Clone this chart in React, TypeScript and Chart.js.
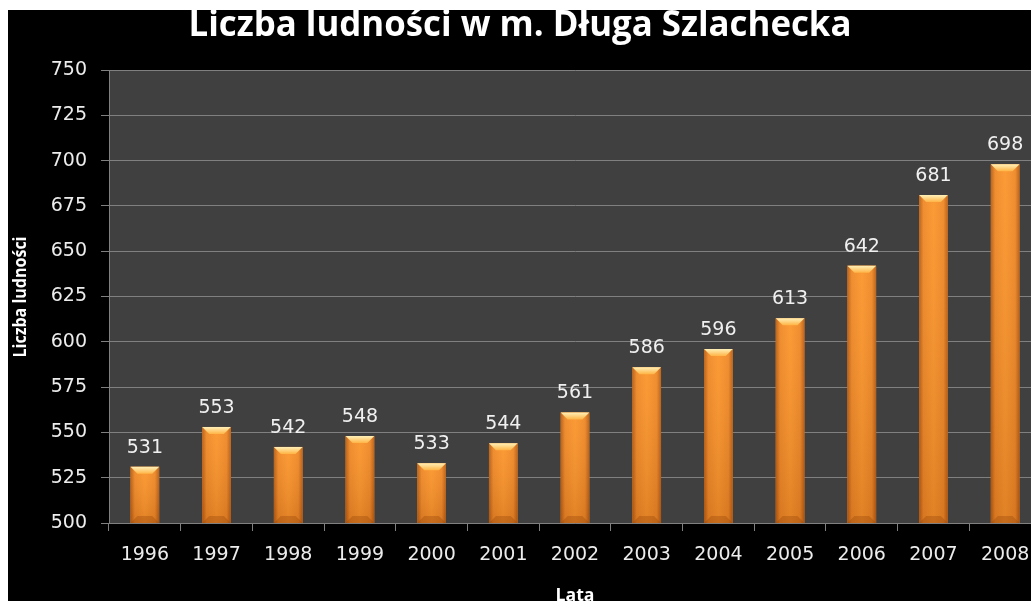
import React, { useEffect, useRef } from "react";
import { Chart, registerables } from "chart.js";

Chart.register(...registerables);

const years = ["1996", "1997", "1998", "1999", "2000", "2001", "2002", "2003", "2004", "2005", "2006", "2007", "2008"];
const population = [531, 553, 542, 548, 533, 544, 561, 586, 596, 613, 642, 681, 698];
const yMin = 500;
const yMax = 750;
const yStep = 25;

const chartTitle = "Liczba ludności w m. Długa Szlachecka";
const yTitle = "Liczba ludności";
const xTitle = "Lata";

const TICK_FONT = "DejaVu Sans";
const BOLD_FONT = "Open Sans";

function fitText(ctx: CanvasRenderingContext2D, text: string, x: number, y: number, width: number) {
  const m = ctx.measureText(text).width;
  ctx.save();
  ctx.translate(x, y);
  ctx.scale(width / m, 1);
  ctx.fillText(text, 0, 0);
  ctx.restore();
}

const decorPlugin = {
  id: "decor",
  beforeDraw(chart: any) {
    const { ctx, chartArea } = chart;
    ctx.save();
    ctx.fillStyle = "#404040";
    ctx.fillRect(chartArea.left, chartArea.top, chartArea.right - chartArea.left, chartArea.bottom - chartArea.top);
    ctx.restore();
  },
  afterDatasetsDraw(chart: any) {
    const { ctx, chartArea } = chart;
    const meta = chart.getDatasetMeta(0);
    meta.data.forEach((el: any, i: number) => {
      const w = el.width;
      const l = el.x - w / 2;
      const r = el.x + w / 2;
      const t = el.y;
      const b = Math.min(el.base, chartArea.bottom);
      const bev = 7;
      ctx.save();
      const hg = ctx.createLinearGradient(l, 0, r, 0);
      hg.addColorStop(0, "#b35a15");
      hg.addColorStop(0.15, "#ee8829");
      hg.addColorStop(0.5, "#fb962f");
      hg.addColorStop(0.85, "#ee8829");
      hg.addColorStop(1, "#b35a15");
      ctx.fillStyle = hg;
      ctx.fillRect(l, t, w, b - t);
      const vg = ctx.createLinearGradient(0, t, 0, b);
      vg.addColorStop(0, "rgba(255,200,120,0.10)");
      vg.addColorStop(1, "rgba(120,50,0,0.20)");
      ctx.fillStyle = vg;
      ctx.fillRect(l, t, w, b - t);
      const tg = ctx.createLinearGradient(0, t, 0, t + bev);
      tg.addColorStop(0, "#fff0b8");
      tg.addColorStop(1, "#ffb445");
      ctx.fillStyle = tg;
      ctx.beginPath();
      ctx.moveTo(l, t);
      ctx.lineTo(r, t);
      ctx.lineTo(r - bev, t + bev);
      ctx.lineTo(l + bev, t + bev);
      ctx.closePath();
      ctx.fill();
      ctx.fillStyle = "rgba(150,70,10,0.35)";
      ctx.beginPath();
      ctx.moveTo(l, b);
      ctx.lineTo(r, b);
      ctx.lineTo(r - bev, b - bev);
      ctx.lineTo(l + bev, b - bev);
      ctx.closePath();
      ctx.fill();
      ctx.restore();

      ctx.save();
      ctx.fillStyle = "#f0f0f0";
      ctx.font = `19px "${TICK_FONT}"`;
      ctx.textAlign = "center";
      ctx.textBaseline = "alphabetic";
      ctx.fillText(String(population[i]), el.x, t - 14);
      ctx.restore();
    });
  },
  afterDraw(chart: any) {
    const { ctx, chartArea } = chart;
    ctx.save();
    ctx.fillStyle = "#ffffff";
    ctx.textAlign = "center";
    ctx.textBaseline = "alphabetic";
    ctx.font = `bold 35px "${BOLD_FONT}"`;
    fitText(ctx, chartTitle, 512, 26, 663);
    ctx.font = `bold 17px "${BOLD_FONT}"`;
    fitText(ctx, xTitle, (chartArea.left + chartArea.right) / 2, 591, 39);
    ctx.save();
    ctx.translate(18, 287);
    ctx.rotate(-Math.PI / 2);
    ctx.font = `bold 17px "${BOLD_FONT}"`;
    fitText(ctx, yTitle, 0, 0, 121);
    ctx.restore();
    ctx.restore();
  },
};

export default function App() {
  const ref = useRef<HTMLCanvasElement | null>(null);
  useEffect(() => {
    if (!ref.current) return;
    const chart = new Chart(ref.current, {
      type: "bar",
      data: {
        labels: years,
        datasets: [
          {
            data: population,
            backgroundColor: "#f28a25",
            borderWidth: 0,
            barPercentage: 0.4,
            categoryPercentage: 1.0,
          },
        ],
      },
      options: {
        responsive: false,
        animation: false,
        devicePixelRatio: 1,
        layout: { padding: { left: 0, right: 12, top: 60, bottom: 0 } },
        plugins: {
          legend: { display: false },
          tooltip: { enabled: false },
          title: { display: false },
        },
        scales: {
          x: {
            offset: true,
            grid: { offset: true, drawOnChartArea: false, drawTicks: true, tickLength: 8, color: "#808080" },
            border: { color: "#808080" },
            ticks: { color: "#ececec", font: { family: TICK_FONT, size: 19 }, padding: 13, maxRotation: 0, autoSkip: false },
            afterFit: (s: any) => {
              s.height = 78;
            },
          },
          y: {
            min: yMin,
            max: yMax,
            ticks: { stepSize: yStep, color: "#ececec", font: { family: TICK_FONT, size: 19 }, padding: 14 },
            grid: { color: "#808080", tickLength: 8 },
            border: { color: "#808080" },
            afterFit: (s: any) => {
              s.width = 101;
            },
          },
        },
      },
      plugins: [decorPlugin],
    });
    return () => chart.destroy();
  }, []);

  return (
    <div
      style={{
        position: "fixed",
        left: 8,
        top: 10,
        width: 1023,
        height: 591,
        overflow: "hidden",
        background: "#000000",
      }}
    >
      <canvas ref={ref} width={1045} height={591} style={{ width: 1045, height: 591, display: "block" }} />
    </div>
  );
}
